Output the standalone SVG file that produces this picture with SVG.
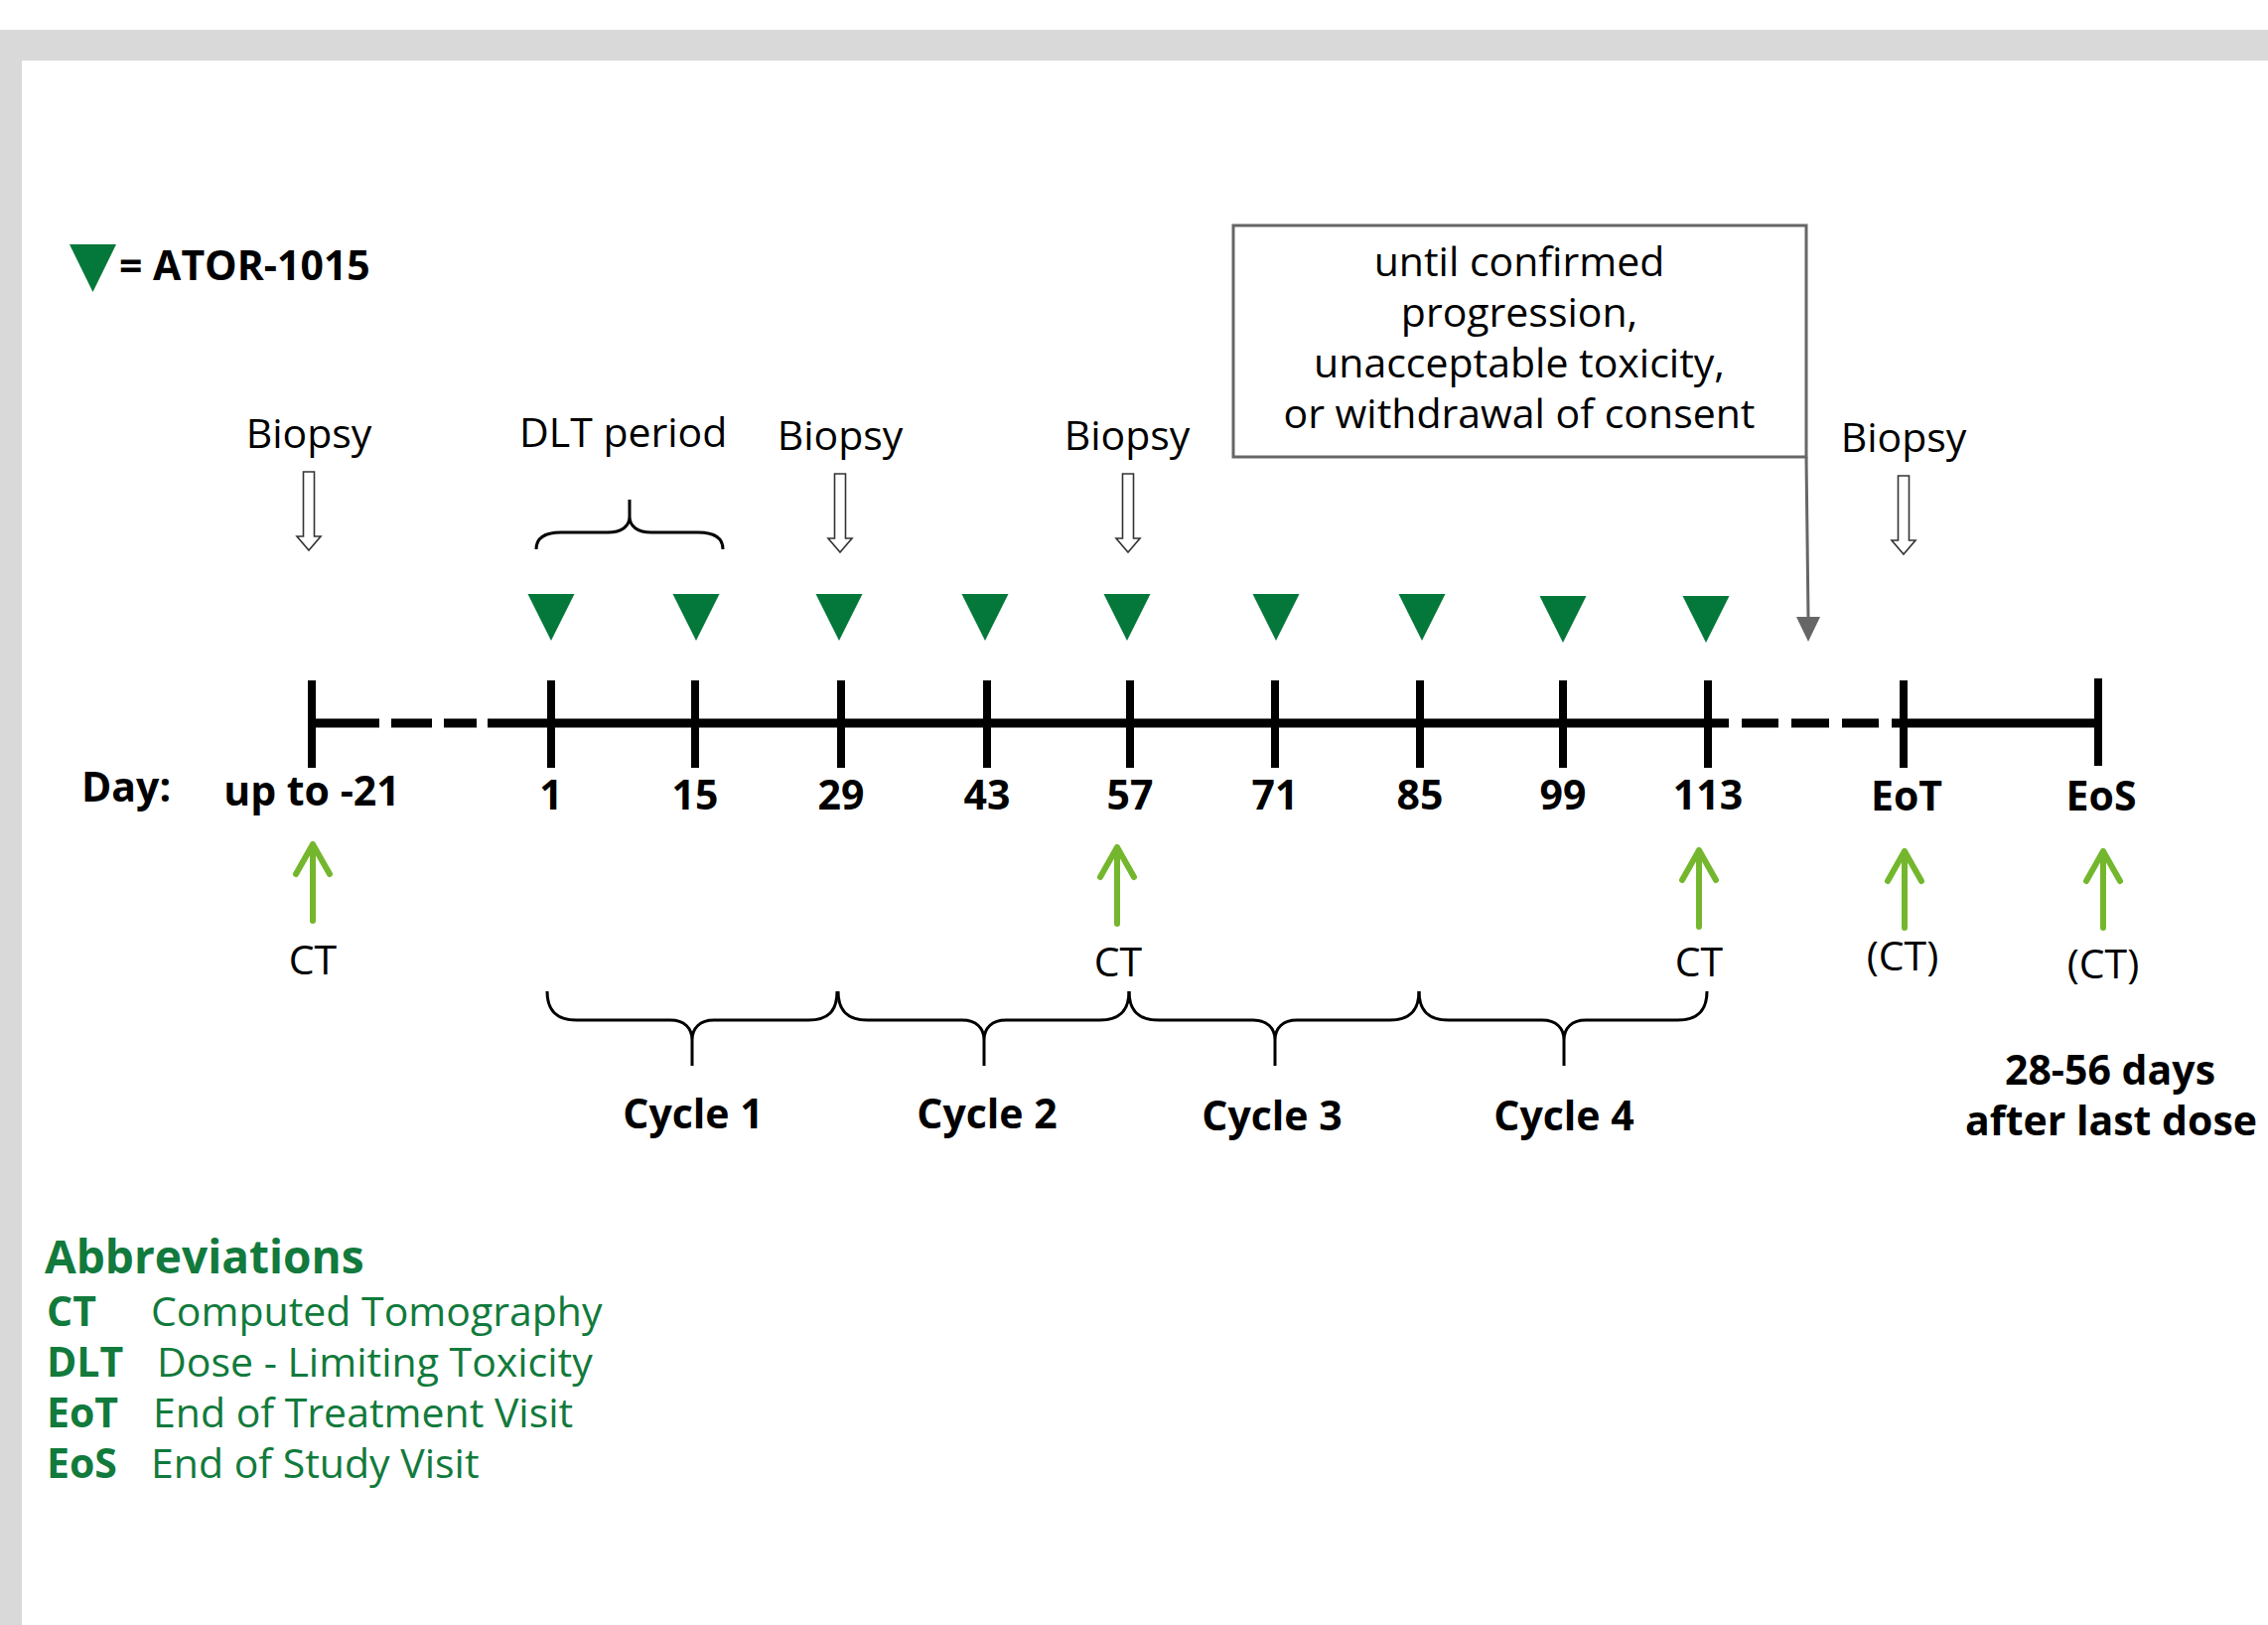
<svg xmlns="http://www.w3.org/2000/svg" width="2284" height="1636" viewBox="0 0 2284 1636">
<defs>
<style>
text{font-family:"Open Sans","Noto Sans","Liberation Sans",sans-serif;font-size:41px;fill:#000}
.b{font-weight:bold}
.c{text-anchor:middle}
.g{fill:#117a3c}
.tri{fill:#04783a}
.tick{stroke:#000;stroke-width:8;fill:none}
.axis{stroke:#000;stroke-width:9;fill:none}
.brace{stroke:#000;stroke-width:3;fill:none}
.hollow{fill:#fff;stroke:#333;stroke-width:1.6}
.ct{stroke:#74b72e;stroke-width:6;fill:none;stroke-linecap:round;stroke-linejoin:round}
</style>
</defs>
<rect x="0" y="0" width="2284" height="1636" fill="#fff"/>
<rect x="0" y="30" width="2284" height="31" fill="#d9d9d9"/>
<rect x="0" y="30" width="22" height="1606" fill="#d9d9d9"/>

<g id="legend">
<path class="tri" d="M70,246 L117,246 L93.5,294 z"/>
<text class="b" x="120" y="282">= ATOR-1015</text>
</g>

<g id="note-box">
<rect x="1242" y="227" width="577" height="233" fill="#fff" stroke="#666" stroke-width="3"/>
<text class="c" x="1530" y="278">until confirmed</text>
<text class="c" x="1530" y="329">progression,</text>
<text class="c" x="1530" y="380">unacceptable toxicity,</text>
<text class="c" x="1530" y="431">or withdrawal of consent</text>
</g>

<g id="connectors">
<path d="M1819,460 L1821,622" stroke="#666" stroke-width="3" fill="none"/>
<path d="M1809,621 L1833,621 L1821,646 z" fill="#666"/>
</g>

<g id="biopsy">
<text class="c" x="311" y="451">Biopsy</text>
<path class="hollow" d="M305.5,475 H316.5 V540 H323 L311,554 L299,540 H305.5 z"/>
<text class="c" x="846" y="453">Biopsy</text>
<path class="hollow" d="M840.5,477 H851.5 V542 H858 L846,556 L834,542 H840.5 z"/>
<text class="c" x="1135" y="453">Biopsy</text>
<path class="hollow" d="M1130.5,477 H1141.5 V542 H1148 L1136,556 L1124,542 H1130.5 z"/>
<text class="c" x="1917" y="455">Biopsy</text>
<path class="hollow" d="M1911.5,479 H1922.5 V544 H1929 L1917,558 L1905,544 H1911.5 z"/>
</g>

<g id="dlt">
<text x="523" y="450">DLT period</text>
<path class="brace" d="M540,553 C540,542 548,536 565,536 H612 C626,536 634,530 634,520 C634,530 642,536 656,536 H703 C720,536 728,542 728,553 M634,520 V503"/>
</g>

<g id="doses">
<path class="tri" d="M531.5,598 L578.5,598 L555,645 z"/>
<path class="tri" d="M677.5,598 L724.5,598 L701,645 z"/>
<path class="tri" d="M821.5,598 L868.5,598 L845,645 z"/>
<path class="tri" d="M968.5,598 L1015.5,598 L992,645 z"/>
<path class="tri" d="M1111.5,598 L1158.5,598 L1135,645 z"/>
<path class="tri" d="M1261.5,598 L1308.5,598 L1285,645 z"/>
<path class="tri" d="M1408.5,598 L1455.5,598 L1432,645 z"/>
<path class="tri" d="M1550.5,600 L1597.5,600 L1574,647 z"/>
<path class="tri" d="M1694.5,600 L1741.5,600 L1718,647 z"/>
</g>

<g id="timeline">
<path class="axis" d="M314,728 H382 M394,728 H435 M447,728 H480 M491,728 H1741 M1754,728 H1791 M1804,728 H1842 M1855,728 H1892 M1905,728 H2113"/>
<path class="tick" d="M314,685 V773 M555,685 V773 M700,685 V773 M847,685 V773 M994,685 V773 M1138,685 V773 M1284,685 V773 M1430,685 V773 M1574,685 V773 M1720,685 V773 M1917,685 V773 M2113,683 V771"/>
</g>

<g id="day-labels">
<text class="b" x="82" y="807">Day:</text>
<text class="b c" x="314" y="811">up to -21</text>
<text class="b c" x="555" y="815">1</text>
<text class="b c" x="700" y="815">15</text>
<text class="b c" x="847" y="815">29</text>
<text class="b c" x="994" y="815">43</text>
<text class="b c" x="1138" y="815">57</text>
<text class="b c" x="1284" y="815">71</text>
<text class="b c" x="1430" y="815">85</text>
<text class="b c" x="1574" y="815">99</text>
<text class="b c" x="1720" y="815">113</text>
<text class="b c" x="1920" y="816">EoT</text>
<text class="b c" x="2116" y="816">EoS</text>
</g>

<g id="ct-scans">
<path class="ct" d="M315,927 V850 M298,880 L315,850 L332,880"/>
<text class="c" x="315" y="981">CT</text>
<path class="ct" d="M1125,930 V853 M1108,883 L1125,853 L1142,883"/>
<text class="c" x="1126" y="983">CT</text>
<path class="ct" d="M1711,933 V856 M1694,886 L1711,856 L1728,886"/>
<text class="c" x="1711" y="983">CT</text>
<path class="ct" d="M1918,934 V857 M1901,887 L1918,857 L1935,887"/>
<text class="c" x="1916" y="977">(CT)</text>
<path class="ct" d="M2118,934 V857 M2101,887 L2118,857 L2135,887"/>
<text class="c" x="2118" y="985">(CT)</text>
</g>

<g id="cycles">
<path class="brace" d="M551,998 C551,1018 561,1027 581,1027 H675 C689,1027 697,1035 697,1047 C697,1035 705,1027 719,1027 H814 C834,1027 843,1018 843,998 M697,1047 V1073"/>
<path class="brace" d="M844,998 C844,1018 854,1027 874,1027 H969 C983,1027 991,1035 991,1047 C991,1035 999,1027 1013,1027 H1107 C1127,1027 1137,1018 1137,998 M991,1047 V1073"/>
<path class="brace" d="M1137,998 C1137,1018 1147,1027 1167,1027 H1262 C1276,1027 1284,1035 1284,1047 C1284,1035 1292,1027 1306,1027 H1399 C1419,1027 1429,1018 1429,998 M1284,1047 V1073"/>
<path class="brace" d="M1429,998 C1429,1018 1439,1027 1459,1027 H1553 C1567,1027 1575,1035 1575,1047 C1575,1035 1583,1027 1597,1027 H1689 C1709,1027 1719,1018 1719,998 M1575,1047 V1073"/>
<text class="b c" x="698" y="1136">Cycle 1</text>
<text class="b c" x="994" y="1136">Cycle 2</text>
<text class="b c" x="1281" y="1138">Cycle 3</text>
<text class="b c" x="1575" y="1138">Cycle 4</text>
</g>

<g id="eos-note">
<text class="b c" x="2125" y="1092">28-56 days</text>
<text class="b c" x="2126" y="1143">after last dose</text>
</g>

<g id="abbreviations">
<text class="g b" x="45" y="1282" style="font-size:46px">Abbreviations</text>
<text class="g b" x="47" y="1335">CT</text>
<text class="g" x="152" y="1335">Computed Tomography</text>
<text class="g b" x="47" y="1386">DLT</text>
<text class="g" x="158" y="1386">Dose - Limiting Toxicity</text>
<text class="g b" x="47" y="1437">EoT</text>
<text class="g" x="154" y="1437">End of Treatment Visit</text>
<text class="g b" x="47" y="1488">EoS</text>
<text class="g" x="152" y="1488">End of Study Visit</text>
</g>
</svg>
